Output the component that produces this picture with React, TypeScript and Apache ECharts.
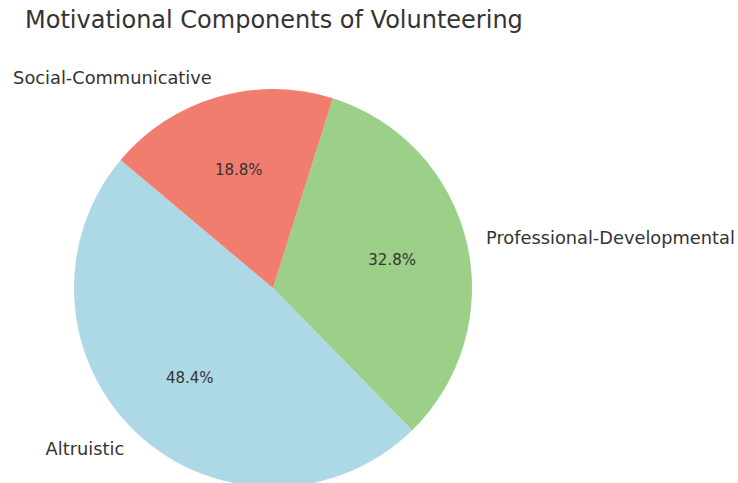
import React, { useEffect, useRef } from "react";
import * as echarts from "echarts";

const categories = ["Altruistic", "Professional-Developmental", "Social-Communicative"];
const values = [31, 21, 12];
const colors = ["#add8e6", "#9ccf88", "#f17d6f"];
const titleText = "Motivational Components of Volunteering";

const FONT = "'DejaVu Sans', sans-serif";

export default function App() {
  const ref = useRef<HTMLDivElement>(null);
  useEffect(() => {
    if (!ref.current) return;
    const chart = echarts.init(ref.current, undefined, { renderer: "svg" });
    const total = values.reduce((a, b) => a + b, 0);
    const data = categories.map((name, i) => ({
      name,
      value: values[i],
      itemStyle: { color: colors[i] },
    }));
    chart.setOption({
      animation: false,
      backgroundColor: "#ffffff",
      title: {
        text: titleText,
        left: 25,
        top: 8,
        padding: 0,
        textStyle: { fontFamily: FONT, fontSize: 24, fontWeight: "normal", color: "#333333" },
      },
      series: [
        {
          type: "pie",
          center: [273, 288],
          radius: [0, 199],
          startAngle: 140,
          clockwise: false,
          avoidLabelOverlap: false,
          silent: true,
          data,
          itemStyle: { borderWidth: 0 },
          label: {
            show: true,
            position: "outside",
            distanceToLabelLine: 0,
            formatter: "{b}",
            fontFamily: FONT,
            fontSize: 17.8,
            color: "#333333",
          },
          labelLine: { show: false, length: 20, length2: 0 },
        },
        {
          type: "pie",
          center: [273, 288],
          radius: [119, 120],
          startAngle: 140,
          clockwise: false,
          avoidLabelOverlap: false,
          silent: true,
          data: categories.map((name, i) => ({ name, value: values[i] })),
          itemStyle: { color: "rgba(0,0,0,0)", borderWidth: 0 },
          label: {
            show: true,
            position: "inside",
            formatter: (p: any) => ((p.value / total) * 100).toFixed(1) + "%",
            fontFamily: FONT,
            fontSize: 15,
            color: "#333333",
          },
          labelLine: { show: false },
        },
      ],
    });
    return () => chart.dispose();
  }, []);
  return (
    <div
      ref={ref}
      style={{ position: "absolute", left: 0, top: 0, width: 738, height: 483 }}
    />
  );
}
